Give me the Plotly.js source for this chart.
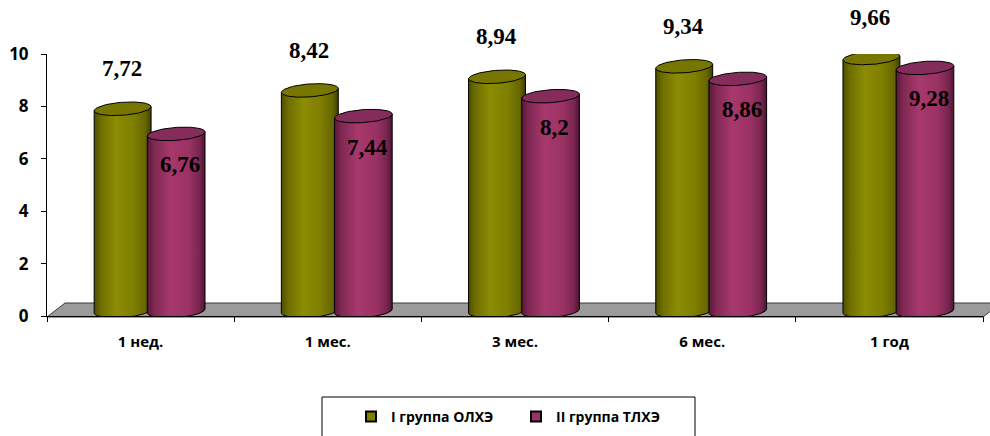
<!DOCTYPE html>
<html>
<head>
<meta charset="utf-8">
<script src="https://cdn.plot.ly/plotly-3.0.1.min.js"></script>
<style>html,body{margin:0;padding:0;background:#fff;}#chart{width:990px;height:436px;}</style>
</head>
<body>
<div id="chart"></div>
<script>
// ---- data ----
const categories = ['1 нед.', '1 мес.', '3 мес.', '6 мес.', '1 год'];
const groupI = [7.72, 8.42, 8.94, 9.34, 9.66];
const groupII = [6.76, 7.44, 8.2, 8.86, 9.28];
const seriesNames = ['I группа ОЛХЭ', 'II группа ТЛХЭ'];
const yTickVals = [0, 2, 4, 6, 8, 10];

// ---- styling / geometry ----
const W = 990, H = 436;
const M = {l: 47, r: 7, t: 54, b: 120, autoexpand: false};
const plotW = W - M.l - M.r, plotH = H - M.t - M.b;
const xRange = [-0.5, 4.5], yRange = [0, 10];
const pxX = plotW / (xRange[1] - xRange[0]);
const pxY = plotH / (yRange[1] - yRange[0]);

const series = [
  {vals: groupI, off: -0.096, hw: 0.152,
   grad: [[0, '#4e4e00'], [0.12, '#6e6e00'], [0.38, '#8c8c04'], [0.7, '#7e7e00'], [0.9, '#666600'], [1, '#3e3e00']],
   topFill: '#777700', legend: '#808000', labelPos: 'above'},
  {vals: groupII, off: 0.19, hw: 0.154,
   grad: [[0, '#5a183a'], [0.12, '#7e2852'], [0.4, '#a8386c'], [0.72, '#9a3264'], [0.9, '#7a2650'], [1, '#4e1432']],
   topFill: '#842c5a', legend: '#993366', labelPos: 'inside'}
];
const base = 0.19;           // depth offset of the cylinder base
const ry = 6.5 / pxY;        // ellipse half-height in y units
const tilt = 2 / pxY;        // slight tilt of ellipses
const N = 48;

function bodyPath(cx, hw, top) {
  const xs = [], ys = [];
  xs.push(cx - hw); ys.push(top - tilt);
  xs.push(cx + hw); ys.push(top + tilt);
  for (let i = 0; i <= N; i++) {
    const t = -Math.PI * i / N;
    xs.push(cx + hw * Math.cos(t));
    ys.push(base + ry * Math.sin(t) + tilt * Math.cos(t));
  }
  xs.push(cx - hw); ys.push(top - tilt);
  return {xs, ys};
}
function ellipsePath(cx, hw, cy) {
  const xs = [], ys = [];
  for (let i = 0; i <= 2 * N; i++) {
    const t = Math.PI * i / N;
    xs.push(cx + hw * Math.cos(t));
    ys.push(cy + ry * Math.sin(t) + tilt * Math.cos(t));
  }
  return {xs, ys};
}

const traces = [];
const annotations = [];
categories.forEach((cat, ci) => {
  series.forEach((s, si) => {
    const cx = ci + s.off;
    const top = s.vals[ci] + base;
    const b = bodyPath(cx, s.hw, top);
    traces.push({
      type: 'scatter', mode: 'lines', x: b.xs, y: b.ys, fill: 'toself',
      fillgradient: {type: 'horizontal', colorscale: s.grad},
      line: {color: '#000', width: 1}, showlegend: false, hoverinfo: 'skip', cliponaxis: false
    });
    const e = ellipsePath(cx, s.hw, top);
    traces.push({
      type: 'scatter', mode: 'lines', x: e.xs, y: e.ys, fill: 'toself',
      fillcolor: s.topFill, line: {color: '#000', width: 1},
      showlegend: false, hoverinfo: 'skip', cliponaxis: false
    });
    annotations.push({
      x: cx + (si === 0 ? -0.005 : 0.02), y: top, xref: 'x', yref: 'y',
      text: String(s.vals[ci]).replace('.', ','), showarrow: false,
      yshift: s.labelPos === 'above' ? 40 : -31,
      xanchor: 'center', yanchor: 'middle',
      font: {family: 'Liberation Serif, Times New Roman, serif', size: 23, color: '#000', weight: 'bold'}
    });
  });
});

// legend entries
series.forEach((s, si) => {
  traces.push({
    type: 'scatter', mode: 'markers', x: [null], y: [null], name: seriesNames[si],
    marker: {symbol: 'square', size: 10, color: s.legend, line: {color: '#000', width: 2}},
    showlegend: true, hoverinfo: 'skip'
  });
});

const toPX = px => (px - M.l) / plotW;
const toPY = py => (H - M.b - py) / plotH;

const shapes = [
  // floor
  {type: 'path', xref: 'paper', yref: 'paper', layer: 'below',
   path: `M ${toPX(47)},${toPY(317)} L ${toPX(65)},${toPY(303)} L ${toPX(1001)},${toPY(303)} L ${toPX(983)},${toPY(317)} Z`,
   fillcolor: '#9b9b9b', line: {color: '#3a3a3a', width: 1}},
  // legend frame
  {type: 'rect', xref: 'paper', yref: 'paper', layer: 'above',
   x0: toPX(322), x1: toPX(695), y0: toPY(397), y1: toPY(445),
   line: {color: '#000', width: 1}, fillcolor: 'rgba(0,0,0,0)'}
];

const tickFont = {family: 'Open Sans, sans-serif', color: '#000', weight: 'bold'};

const layout = {
  width: W, height: H,
  margin: M,
  paper_bgcolor: '#fff', plot_bgcolor: 'rgba(0,0,0,0)',
  showlegend: true,
  xaxis: {
    range: xRange, tickvals: categories.map((c, i) => i), ticktext: categories,
    ticks: '', showgrid: false, zeroline: false, showline: true, linecolor: '#000', linewidth: 1,
    ticklabelstandoff: 12, automargin: false,
    tickfont: Object.assign({size: 15}, tickFont),
    minor: {tick0: -0.5, dtick: 1, ticks: 'outside', ticklen: 5, tickcolor: '#000', tickwidth: 1, showgrid: false},
    fixedrange: true
  },
  yaxis: {
    range: yRange, tickvals: yTickVals, ticks: 'outside', ticklen: 5, tickcolor: '#000',
    showgrid: false, zeroline: false, showline: true, linecolor: '#000', linewidth: 1,
    automargin: false, ticklabelstandoff: 9,
    tickfont: Object.assign({size: 17}, tickFont),
    fixedrange: true
  },
  legend: {
    orientation: 'h', x: toPX(516), xanchor: 'center', y: toPY(417), yanchor: 'middle',
    font: Object.assign({size: 14}, tickFont),
    bgcolor: 'rgba(0,0,0,0)', borderwidth: 0, entrywidth: 120, itemwidth: 30
  },
  shapes: shapes,
  annotations: annotations
};

Plotly.newPlot('chart', traces, layout, {displayModeBar: false, staticPlot: true});
</script>
</body>
</html>
